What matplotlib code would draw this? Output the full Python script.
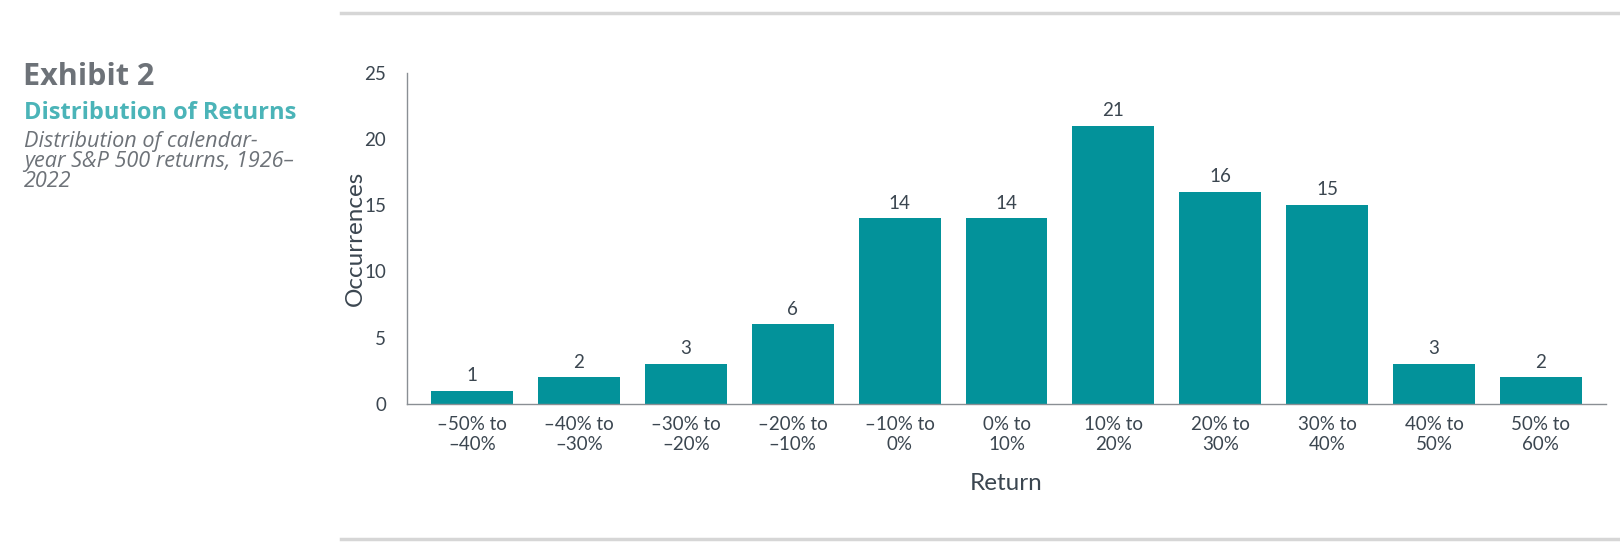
import numpy as np
import matplotlib
matplotlib.use("Agg")
import matplotlib.pyplot as plt

plt.rcParams['font.family'] = ['Lato', 'DejaVu Sans']

# data
bins = ['–50% to\n–40%', '–40% to\n–30%', '–30% to\n–20%', '–20% to\n–10%',
        '–10% to\n0%', '0% to\n10%', '10% to\n20%', '20% to\n30%',
        '30% to\n40%', '40% to\n50%', '50% to\n60%']
counts = [1, 2, 3, 6, 14, 14, 21, 16, 15, 3, 2]
yticks = [0, 5, 10, 15, 20, 25]
subtitle = ['Distribution of calendar-', 'year S&P 500 returns, 1926–', '2022']

teal = '#03929a'
txt = '#3b4650'
grey = '#6d7278'

fig = plt.figure(figsize=(16.2, 5.58), dpi=100)
ax = fig.add_axes([0.2512, 0.276, 0.7402, 0.5937])

x = np.arange(len(bins))
bars = ax.bar(x, counts, width=0.767, color=teal)
for b, c in zip(bars, counts):
    ax.annotate(str(c), (b.get_x() + b.get_width() / 2, c), xytext=(0, 5),
                textcoords='offset points', ha='center', va='bottom',
                fontsize=13.5, color=txt)

ax.set_xlim(-0.61, len(bins) - 1 + 0.61)
ax.set_ylim(0, 25)
ax.set_yticks(yticks)
ax.set_xticks(x)
ax.set_xticklabels(bins, fontsize=13.5, color=txt, linespacing=1.15)
ax.tick_params(axis='y', length=0, pad=15, labelsize=13.5, labelcolor=txt)
ax.tick_params(axis='x', length=0, pad=9)
for s in ['top', 'right']:
    ax.spines[s].set_visible(False)
for s in ['left', 'bottom']:
    ax.spines[s].set_color('#8a8f94')
    ax.spines[s].set_linewidth(1.0)

ax.set_ylabel('Occurrences', fontsize=17.5, color=txt, labelpad=-1)
ax.set_xlabel('Return', fontsize=17.5, color=txt, labelpad=15)

# header text
head = ['Open Sans', 'DejaVu Sans']
fig.text(23 / 1620, 1 - 85 / 558, 'Exhibit 2', fontsize=22, fontweight='bold',
         color=grey, ha='left', va='baseline', family=head)
fig.text(24 / 1620, 1 - 119 / 558, 'Distribution of Returns', fontsize=17,
         fontweight='bold', color='#4bb4b8', ha='left', va='baseline', family=head)
for i, line in enumerate(subtitle):
    fig.text(24 / 1620, 1 - (147 + 20 * i) / 558, line, fontsize=15.6,
             fontstyle='italic', color=grey, ha='left', va='baseline', family=head)

# rule lines
fig.add_artist(plt.Line2D([341 / 1620, 1], [1 - 13 / 558] * 2, color='#d6d6d6', lw=2.5))
fig.add_artist(plt.Line2D([341 / 1620, 1], [1 - 539 / 558] * 2, color='#d6d6d6', lw=2.5))

fig.savefig('out.png', dpi=100)
